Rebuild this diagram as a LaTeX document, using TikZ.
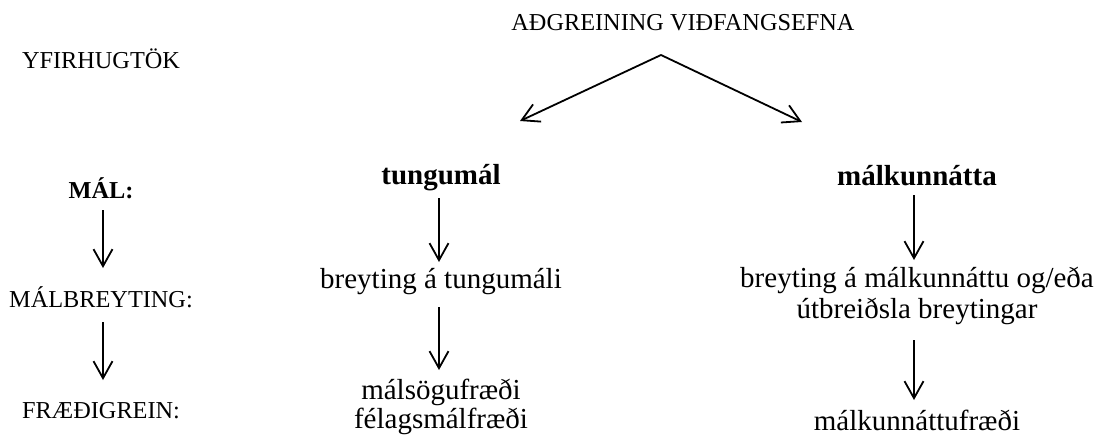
\documentclass[tikz,border=0pt]{standalone}
\usepackage{fontspec}
\setmainfont{Liberation Serif}
\usetikzlibrary{arrows.meta}
\begin{document}
\begin{tikzpicture}[x=1pt,y=-1pt,
  caps/.style={font=\fontsize{24.3}{28}\selectfont, inner sep=0pt, anchor=base},
  capsb/.style={caps, font=\fontsize{24.3}{28}\selectfont\bfseries},
  txt/.style={font=\fontsize{29}{33}\selectfont, inner sep=0pt, anchor=base},
  bld/.style={txt, font=\fontsize{29}{33}\selectfont\bfseries},
  arr/.style={line width=1.8pt, -{Straight Barb[length=17pt,width=19pt]}},
]
\useasboundingbox (0,0) rectangle (1100,436);
% top
\node[caps] (top) at (683,31) {AÐGREINING VIÐFANGSEFNA};
\coordinate (apex) at (661,55);
\coordinate (ltip) at (520,121);
\coordinate (rtip) at (802,122);
\draw[arr] (apex) -- (ltip);
\draw[arr] (apex) -- (rtip);
% left column
\node[caps] (yfir) at (101,68) {YFIRHUGTÖK};
\node[capsb] (mal) at (101,198) {MÁL:};
\node[caps] (malbr) at (101,307) {MÁLBREYTING:};
\node[caps] (fraedi) at (101,418) {FRÆÐIGREIN:};
\draw[arr] ([xshift=2pt,yshift=-12pt]mal.base) -- ([xshift=2pt,yshift=39pt]malbr.base);
\draw[arr] ([xshift=2pt,yshift=-15pt]malbr.base) -- ([xshift=2pt,yshift=38pt]fraedi.base);
% centre column
\node[bld] (tung) at (441,184) {tungumál};
\node[txt] (brt) at (441,288) {breyting á tungumáli};
\node[txt] (ms) at (441,399) {málsögufræði};
\node[txt] (fel) at (441,428) {félagsmálfræði};
\draw[arr] ([xshift=-2pt,yshift=-14pt]tung.base) -- ([xshift=-2pt,yshift=26pt]brt.base);
\draw[arr] ([xshift=-2pt,yshift=-19pt]brt.base) -- ([xshift=-2pt,yshift=29pt]ms.base);
% right column
\node[bld] (mk) at (917,185) {málkunnátta};
\node[txt] (bm1) at (917,287) {breyting á málkunnáttu og/eða};
\node[txt] (bm2) at (917,318) {útbreiðsla breytingar};
\node[txt] (mkf) at (917,430) {málkunnáttufræði};
\draw[arr] ([xshift=-3pt,yshift=-10pt]mk.base) -- ([xshift=-3pt,yshift=27pt]bm1.base);
\draw[arr] ([xshift=-3pt,yshift=-22pt]bm2.base) -- ([xshift=-3pt,yshift=30pt]mkf.base);
\end{tikzpicture}
\end{document}
